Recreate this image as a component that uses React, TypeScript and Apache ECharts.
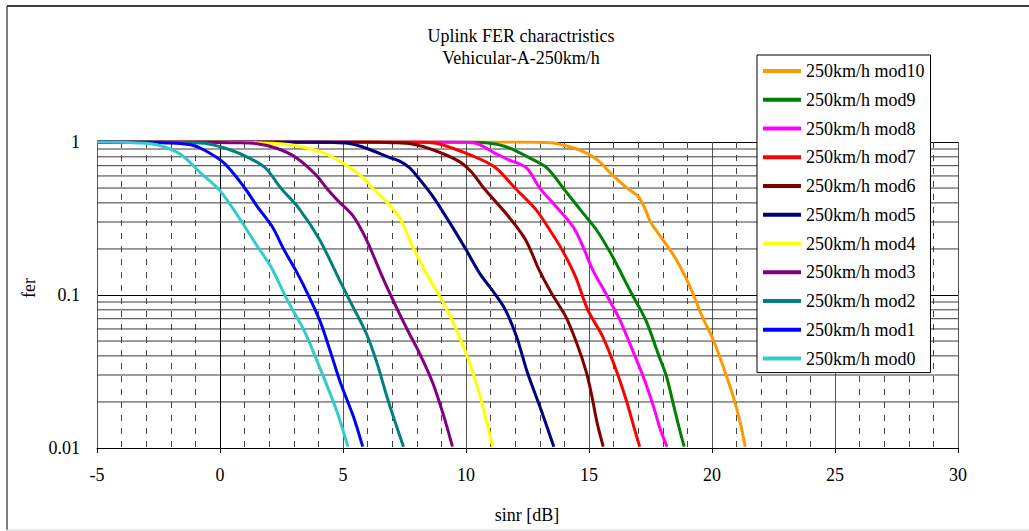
import React, { useEffect, useRef } from "react";
import * as echarts from "echarts";

const TITLE_LINES = ["Uplink FER charactristics", "Vehicular-A-250km/h"];
const X_NAME = "sinr [dB]";
const Y_NAME = "fer";

const X_MIN = -5;
const X_MAX = 30;
const X_INTERVAL = 5;
const Y_MIN = 0.01;
const Y_MAX = 1;
const Y_MINOR_LINES = [0.02, 0.03, 0.04, 0.05, 0.06, 0.07, 0.08, 0.09, 0.2, 0.3, 0.4, 0.5, 0.6, 0.7, 0.8, 0.9];

const SERIES_NAMES = [
  "250km/h mod10",
  "250km/h mod9",
  "250km/h mod8",
  "250km/h mod7",
  "250km/h mod6",
  "250km/h mod5",
  "250km/h mod4",
  "250km/h mod3",
  "250km/h mod2",
  "250km/h mod1",
  "250km/h mod0",
];

const SERIES_COLORS = [
  "#FF9900",
  "#008000",
  "#FF00FF",
  "#FF0000",
  "#800000",
  "#000080",
  "#FFFF00",
  "#800080",
  "#008080",
  "#0000FF",
  "#33CCCC",
];

// [sinr dB, fer]
const mod10 = [[-5, 1], [12, 0.999], [13.46, 0.99], [14.41, 0.91], [15.0, 0.83], [15.4, 0.75], [15.95, 0.61], [16.55, 0.5], [17.0, 0.44], [17.3, 0.36], [17.5, 0.3], [18.0, 0.23], [18.55, 0.17], [19.1, 0.114], [19.6, 0.0725], [20.05, 0.051], [20.5, 0.0325], [20.9, 0.0207], [21.15, 0.0146], [21.35, 0.0102]];
const mod9 = [[-5, 1], [10, 0.999], [10.8, 0.99], [11.6, 0.935], [12.6, 0.785], [13.3, 0.676], [13.95, 0.5], [14.75, 0.344], [15.3, 0.267], [15.95, 0.179], [16.72, 0.103], [17.3, 0.069], [17.85, 0.0397], [18.15, 0.0294], [18.45, 0.0187], [18.72, 0.0125], [18.87, 0.0102]];
const mod8 = [[-5, 1], [9, 0.999], [10.33, 0.985], [11.15, 0.85], [11.69, 0.77], [12.45, 0.68], [13.0, 0.5], [13.65, 0.38], [14.35, 0.28], [14.75, 0.208], [15.15, 0.146], [15.67, 0.103], [16.25, 0.069], [16.65, 0.0485], [17.2, 0.0294], [17.62, 0.0187], [17.9, 0.0132], [18.17, 0.0102]];
const mod7 = [[-5, 1], [7.5, 0.999], [8.7, 0.985], [9.79, 0.87], [11.15, 0.69], [11.99, 0.5], [12.85, 0.36], [13.4, 0.267], [13.9, 0.198], [14.45, 0.132], [14.95, 0.08], [15.55, 0.0537], [16.1, 0.0325], [16.55, 0.0197], [16.82, 0.0138], [17.06, 0.0102]];
const mod6 = [[-5, 1], [6, 0.999], [7, 0.99], [7.8, 0.97], [8.65, 0.89], [9.7, 0.75], [10.25, 0.63], [10.72, 0.5], [11.7, 0.33], [12.42, 0.23], [12.97, 0.146], [13.47, 0.103], [14.05, 0.0725], [14.5, 0.0485], [14.9, 0.031], [15.12, 0.0217], [15.33, 0.0146], [15.58, 0.0102]];
const mod5 = [[-5, 1], [3.5, 0.999], [4.5, 0.995], [5.2, 0.98], [5.95, 0.91], [6.9, 0.79], [7.3, 0.75], [7.7, 0.68], [8.0, 0.6], [8.4, 0.5], [8.7, 0.43], [9.35, 0.295], [10.0, 0.198], [10.55, 0.139], [11.15, 0.103], [11.6, 0.08], [12.05, 0.0537], [12.5, 0.031], [13.05, 0.0178], [13.57, 0.0102]];
const mod4 = [[-5, 1], [0.5, 0.998], [1.5, 0.99], [2.87, 0.96], [4.2, 0.85], [5.1, 0.71], [5.9, 0.57], [6.2, 0.5], [6.75, 0.41], [7.3, 0.32], [7.8, 0.212], [8.4, 0.137], [8.85, 0.103], [9.3, 0.076], [9.72, 0.0537], [10.15, 0.036], [10.58, 0.0217], [10.85, 0.0146], [11.08, 0.0102]];
const mod3 = [[-5, 1], [-0.5, 0.998], [0.5, 0.99], [1.5, 0.975], [2.3, 0.91], [3.1, 0.79], [3.9, 0.61], [4.33, 0.5], [4.75, 0.42], [5.4, 0.33], [5.95, 0.23], [6.65, 0.126], [7.22, 0.08], [7.72, 0.055], [8.1, 0.042], [8.65, 0.0266], [9.1, 0.0161], [9.45, 0.0102]];
const mod2 = [[-5, 1], [-2, 0.998], [-1.2, 0.99], [-0.5, 0.975], [0.4, 0.89], [1.2, 0.785], [1.85, 0.676], [2.47, 0.5], [3.2, 0.37], [4.05, 0.23], [4.85, 0.126], [5.4, 0.084], [5.95, 0.056], [6.38, 0.036], [6.78, 0.0218], [7.13, 0.0146], [7.46, 0.0102]];
const mod1 = [[-5, 1], [-3, 0.998], [-2.3, 0.99], [-1.2, 0.96], [-0.66, 0.89], [0.16, 0.73], [0.97, 0.51], [1.51, 0.38], [2.12, 0.28], [2.6, 0.198], [3.14, 0.139], [3.55, 0.103], [4.09, 0.066], [4.5, 0.042], [4.9, 0.0266], [5.42, 0.0161], [5.8, 0.0102]];
const mod0 = [[-5, 1], [-4, 0.998], [-3.5, 0.99], [-2.56, 0.96], [-1.6, 0.83], [-0.8, 0.63], [0, 0.48], [0.83, 0.31], [1.5, 0.21], [2.06, 0.154], [2.73, 0.093], [3.41, 0.059], [4.09, 0.0325], [4.77, 0.017], [5.2, 0.0102]];

const SERIES_DATA = [mod10, mod9, mod8, mod7, mod6, mod5, mod4, mod3, mod2, mod1, mod0];

const FONT = "'Liberation Serif', 'Times New Roman', serif";

export default function App() {
  const ref = useRef<HTMLDivElement>(null);

  useEffect(() => {
    if (!ref.current) return;
    const chart = echarts.init(ref.current, null, { renderer: "svg" });

    const gridSeries = Y_MINOR_LINES.map((v) => ({
      type: "line",
      name: "minor-" + v,
      data: [[X_MIN, v], [X_MAX, v]],
      symbol: "none",
      silent: true,
      z: 1,
      lineStyle: { color: "#3a3a3a", width: 1 },
      legendHoverLink: false,
    }));

    const curveSeries = SERIES_NAMES.map((name, i) => ({
      type: "line",
      name,
      data: SERIES_DATA[i],
      symbol: "none",
      showSymbol: false,
      smooth: 0.3,
      z: 2,
      color: SERIES_COLORS[i],
      lineStyle: { color: SERIES_COLORS[i], width: 3 },
    }));

    const option: any = {
      animation: false,
      backgroundColor: "#ffffff",
      grid: { left: 97, right: 71, top: 142, bottom: 83, containLabel: false },
      xAxis: {
        type: "value",
        min: X_MIN,
        max: X_MAX,
        interval: X_INTERVAL,
        axisLine: { show: true, onZero: false, lineStyle: { color: "#000", width: 1 } },
        axisTick: { show: true, length: 5, lineStyle: { color: "#000" } },
        axisLabel: { margin: 18, fontSize: 18, fontFamily: FONT, color: "#000" },
        splitLine: { show: true, lineStyle: { color: "#555", width: 1 } },
        minorTick: { show: false, splitNumber: 5 },
        minorSplitLine: { show: true, lineStyle: { color: "#444", width: 1, type: [6, 7] } },
      },
      yAxis: {
        type: "log",
        logBase: 10,
        min: Y_MIN,
        max: Y_MAX,
        axisLine: { show: true, lineStyle: { color: "#000", width: 1 } },
        axisTick: { show: true, length: 7, lineStyle: { color: "#000" } },
        axisLabel: {
          margin: 17,
          fontSize: 18,
          fontFamily: FONT,
          color: "#000",
          formatter: (v: number) => String(Number(Number(v).toPrecision(2))),
        },
        splitLine: { show: true, lineStyle: { color: "#000", width: 1 } },
      },
      legend: {
        data: SERIES_NAMES,
        orient: "vertical",
        left: 757,
        top: 55,
        padding: [6, 6, 4, 6],
        itemGap: 8.76,
        itemWidth: 38,
        itemHeight: 4,
        itemTextGap: 5,
        icon: "rect",
        backgroundColor: "#fff",
        borderColor: "#000",
        borderWidth: 1,
        borderRadius: 0,
        selectedMode: false,
        textStyle: { fontSize: 18, fontFamily: FONT, color: "#000", lineHeight: 20 },
      },
      graphic: [
        { type: "line", silent: true, shape: { x1: 7, y1: 6, x2: 1029, y2: 6 }, style: { stroke: "#404040", lineWidth: 2 } },
        { type: "line", silent: true, shape: { x1: 7, y1: 6, x2: 7, y2: 530 }, style: { stroke: "#000", lineWidth: 1 } },
        { type: "line", silent: true, shape: { x1: 7, y1: 530, x2: 1029, y2: 530 }, style: { stroke: "#d0d0d0", lineWidth: 1 } },
        { type: "text", x: 521, y: 36, style: { text: TITLE_LINES[0], fontSize: 18, fontFamily: FONT, fill: "#000", align: "center", verticalAlign: "middle" } },
        { type: "text", x: 521, y: 58, style: { text: TITLE_LINES[1], fontSize: 18, fontFamily: FONT, fill: "#000", align: "center", verticalAlign: "middle" } },
        { type: "text", x: 527, y: 515, style: { text: X_NAME, fontSize: 18, fontFamily: FONT, fill: "#000", align: "center", verticalAlign: "middle" } },
        { type: "text", x: 29, y: 288, rotation: Math.PI / 2, style: { text: Y_NAME, fontSize: 18, fontFamily: FONT, fill: "#000", align: "center", verticalAlign: "middle" } },
      ],
      series: [...gridSeries, ...curveSeries],
    };

    chart.setOption(option);
    return () => {
      chart.dispose();
    };
  }, []);

  return (
    <div
      ref={ref}
      style={{ position: "fixed", left: 0, top: 0, width: 1029, height: 531, background: "#fff" }}
    />
  );
}
